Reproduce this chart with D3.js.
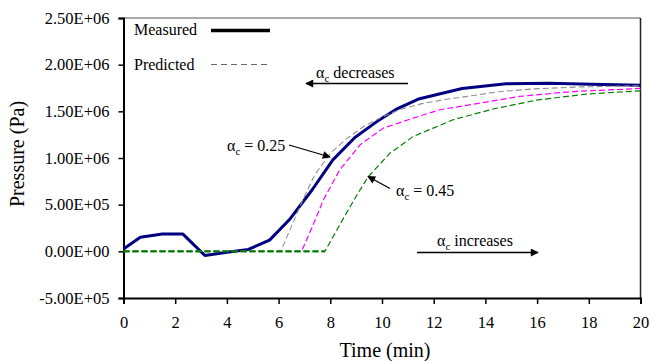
<!DOCTYPE html>
<html>
<head>
  <meta charset="UTF-8">
  <script src="https://d3js.org/d3.v7.min.js"></script>
  <style>
    body { margin: 0; background: #fff; }
    svg { display: block; }
  </style>
</head>
<body>
  <svg width="652" height="361"></svg>

  <script>
    const width = 652;
    const height = 361;
    const margin = {top: 18, right: 11.5, bottom: 63, left: 123.5};
    const FONT = '"Liberation Serif"';

    // data (time in min, pressure in Pa)
    const measuredT = [0, 0.65, 1.5, 2.3, 3.15, 4.0, 4.83, 5.65, 6.45, 7.3, 8.1, 8.95, 9.8, 10.6, 11.45, 13.1, 14.8, 16.45, 18.1, 20];
    const measuredP = [2.5e4, 1.5e5, 1.85e5, 1.85e5, -4.5e4, -1e4, 2e4, 1.2e5, 3.5e5, 6.6e5, 9.8e5, 1.22e6, 1.39e6, 1.53e6, 1.635e6, 1.745e6, 1.795e6, 1.80e6, 1.79e6, 1.78e6];

    const pred025T = [0, 6.08, 6.5, 7.0, 7.4, 8.0, 8.6, 9.3, 10.0, 10.7, 11.5, 12.5, 13.3, 14.5, 15.85, 17.5, 20];
    const pred025P = [0, 0, 2.7e5, 5.9e5, 8.2e5, 1.05e6, 1.2e6, 1.34e6, 1.44e6, 1.52e6, 1.58e6, 1.63e6, 1.66e6, 1.71e6, 1.74e6, 1.76e6, 1.775e6];

    const predMidT = [0, 6.89, 7.3, 7.73, 8.37, 9.15, 10.05, 11.4, 12.24, 13.4, 15.33, 17.27, 20];
    const predMidP = [0, 0, 2.6e5, 5.5e5, 8.75e5, 1.14e6, 1.32e6, 1.445e6, 1.517e6, 1.57e6, 1.66e6, 1.71e6, 1.745e6];

    const pred045T = [0, 7.79, 8.5, 9.0, 9.47, 10.3, 11.2, 11.98, 12.75, 14.3, 15.98, 17.9, 20];
    const pred045P = [0, 0, 3.5e5, 5.9e5, 8.0e5, 1.05e6, 1.23e6, 1.32e6, 1.41e6, 1.525e6, 1.62e6, 1.685e6, 1.72e6];

    const xTicks = [0, 2, 4, 6, 8, 10, 12, 14, 16, 18, 20];
    const yTicks = [-5e5, 0, 5e5, 1e6, 1.5e6, 2e6, 2.5e6];
    const yTickLabels = ["-5.00E+05", "0.00E+00", "5.00E+05", "1.00E+06", "1.50E+06", "2.00E+06", "2.50E+06"];

    const svg = d3.select("svg");

    const x = d3.scaleLinear().domain([0, 20]).range([margin.left, width - margin.right]);
    const y = d3.scaleLinear().domain([-5e5, 2.5e6]).range([height - margin.bottom, margin.top]);

    // arrow head
    svg.append("defs").append("marker")
        .attr("id", "arrow")
        .attr("viewBox", "0 0 10 10")
        .attr("refX", 9).attr("refY", 5)
        .attr("markerWidth", 9).attr("markerHeight", 8)
        .attr("markerUnits", "userSpaceOnUse")
        .attr("orient", "auto")
      .append("path")
        .attr("d", "M0,0L10,5L0,10z")
        .attr("fill", "#000");

    // plot frame (top + right)
    svg.append("line")
        .attr("x1", x(0)).attr("x2", x(20))
        .attr("y1", y(2.5e6)).attr("y2", y(2.5e6))
        .attr("stroke", "#555").attr("stroke-width", 1);
    svg.append("line")
        .attr("x1", x(20)).attr("x2", x(20))
        .attr("y1", y(2.5e6)).attr("y2", y(-5e5))
        .attr("stroke", "#222").attr("stroke-width", 1.5);

    // axes
    const xAxis = svg.append("g")
        .attr("transform", `translate(0,${y(-5e5)})`)
        .call(d3.axisBottom(x).tickValues(xTicks).tickSize(6).tickPadding(12.5).tickFormat(d3.format("d")));
    const yAxis = svg.append("g")
        .attr("transform", `translate(${x(0)},0)`)
        .call(d3.axisLeft(y).tickValues(yTicks).tickSize(5).tickPadding(9)
          .tickFormat((d, i) => yTickLabels[i]));

    [xAxis, yAxis].forEach(g => {
      g.attr("font-family", null).attr("font-size", null);
      g.select(".domain").attr("stroke", "#000").attr("stroke-width", 2);
      g.selectAll(".tick line").attr("stroke", "#000").attr("stroke-width", 1.5);
      g.selectAll(".tick text").attr("fill", "#000").style("font-family", FONT).style("font-size", "16.5px");
    });

    // axis titles
    svg.append("text")
        .attr("x", (x(0) + x(20)) / 2 + 3)
        .attr("y", 357)
        .attr("text-anchor", "middle")
        .style("font-family", FONT)
        .style("font-size", "20px")
        .text("Time (min)");
    svg.append("text")
        .attr("transform", `translate(24,${(y(2.5e6) + y(-5e5)) / 2 - 4}) rotate(-90)`)
        .attr("text-anchor", "middle")
        .style("font-family", FONT)
        .style("font-size", "20px")
        .text("Pressure (Pa)");

    const line = d3.line().x(d => x(d[0])).y(d => y(d[1]));

    const series = [
      {t: measuredT, p: measuredP, color: "#000080", w: 3, dash: null},
      {t: pred025T, p: pred025P, color: "#909090", w: 1.1, dash: "6,3"},
      {t: predMidT, p: predMidP, color: "#ff00ff", w: 1.2, dash: "6,3"},
      {t: pred045T, p: pred045P, color: "#008000", w: 1.2, dash: "6,3"}
    ];

    series.forEach(s => {
      svg.append("path")
          .datum(d3.zip(s.t, s.p))
          .attr("fill", "none")
          .attr("stroke", s.color)
          .attr("stroke-width", s.w)
          .attr("stroke-dasharray", s.dash)
          .attr("stroke-linejoin", "round")
          .attr("d", line);
    });

    // flat (zero) part of the alpha = 0.45 prediction, which sits on top of the others
    const flat045 = d3.zip(pred045T, pred045P).filter(d => d[1] === 0);
    svg.append("path")
        .datum(flat045)
        .attr("fill", "none")
        .attr("stroke", "#008000")
        .attr("stroke-width", 2.2)
        .attr("stroke-dasharray", "6,3")
        .attr("d", line);

    // legend
    function label(px, py) {
      return svg.append("text").attr("x", px).attr("y", py)
          .style("font-family", FONT).style("font-size", "16px");
    }
    label(134, 35).text("Measured");
    svg.append("line")
        .attr("x1", 211).attr("x2", 270).attr("y1", 30.5).attr("y2", 30.5)
        .attr("stroke", "#000").attr("stroke-width", 3.5);
    label(134, 70).text("Predicted");
    svg.append("line")
        .attr("x1", 211).attr("x2", 270).attr("y1", 64.5).attr("y2", 64.5)
        .attr("stroke", "#666").attr("stroke-width", 1).attr("stroke-dasharray", "6,4");

    // annotations
    function alphaLabel(px, py, rest) {
      const t = label(px, py);
      t.append("tspan").text("\u03b1");
      t.append("tspan").attr("dy", 4).style("font-size", "11px").text("c");
      t.append("tspan").attr("dy", -4).text(rest);
    }
    function arrow(x1, y1, x2, y2) {
      svg.append("line")
          .attr("x1", x1).attr("y1", y1).attr("x2", x2).attr("y2", y2)
          .attr("stroke", "#000").attr("stroke-width", 1.3)
          .attr("marker-end", "url(#arrow)");
    }

    alphaLabel(316, 78, " decreases");
    arrow(408, 83.5, 306, 83.5);

    alphaLabel(227, 151, " = 0.25");
    arrow(289, 145, 330, 157);

    alphaLabel(396, 196, " = 0.45");
    arrow(390, 188.5, 368, 176.5);

    alphaLabel(437, 246, " increases");
    arrow(417, 252.5, 538, 252.5);
  </script>
</body>
</html>
